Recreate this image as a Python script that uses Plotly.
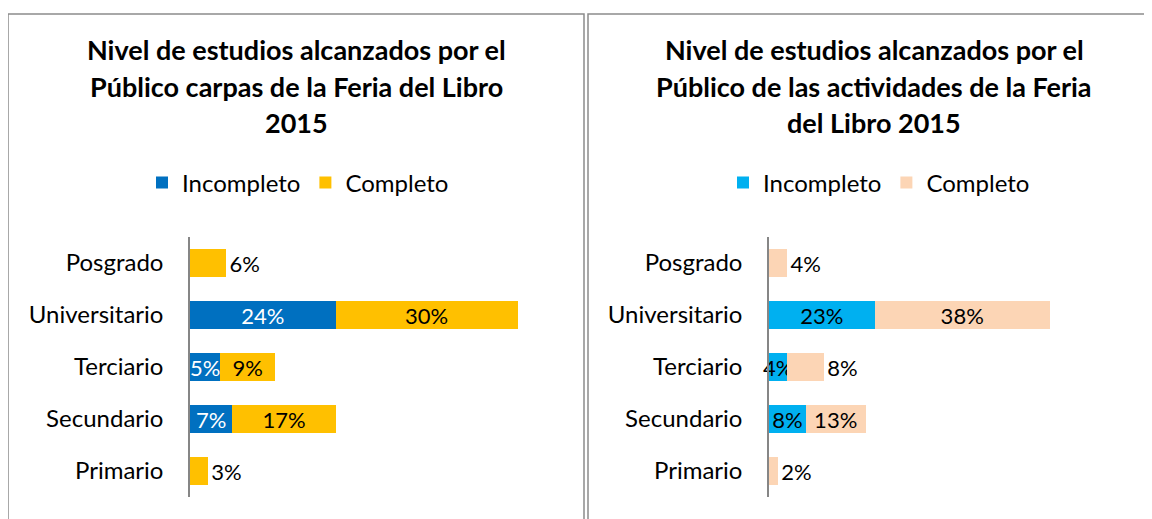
import plotly.graph_objects as go

W, H = 1152, 519
OFF = 8  # page body margin

categories = ["Posgrado", "Universitario", "Terciario", "Secundario", "Primario"]

carpas_incompleto = [None, 24, 5, 7, None]
carpas_completo = [6, 30, 9, 17, 3]

activ_incompleto = [None, 23, 4, 8, None]
activ_completo = [4, 38, 8, 13, 2]

title_left = ["Nivel de estudios alcanzados por el", "Público carpas de la Feria del Libro", "2015"]
title_right = ["Nivel de estudios alcanzados por el", "Público de las actividades de la Feria", "del Libro 2015"]

FONT = "Lato"
BLUE, YELLOW = "#0070C0", "#FFC000"
CYAN, PEACH = "#00B0F0", "#FCD5B5"


def px(x):
    return (x - OFF) / W


def py(y):
    return 1 - (y - OFF) / H


def lab(vals):
    return [("" if v is None else f"{v}%") for v in vals]


LBL = 22
fig = go.Figure()

common_bar = dict(orientation="h", insidetextanchor="middle", constraintext="none",
                  textangle=0, hoverinfo="skip", cliponaxis=False)

# left panel
fig.add_trace(go.Bar(
    y=categories, x=carpas_incompleto, name="Incompleto",
    marker=dict(color=BLUE, line=dict(width=0)), text=lab(carpas_incompleto),
    textposition="inside",
    textfont=dict(color="white", size=LBL, family=FONT),
    xaxis="x", yaxis="y", legend="legend", **common_bar))
fig.add_trace(go.Bar(
    y=categories, x=carpas_completo, name="Completo",
    marker=dict(color=YELLOW, line=dict(width=0)), text=lab(carpas_completo),
    textposition=["outside", "inside", "inside", "inside", "outside"],
    textfont=dict(color="black", size=LBL, family=FONT),
    xaxis="x", yaxis="y", legend="legend", **common_bar))

# right panel
fig.add_trace(go.Bar(
    y=categories, x=activ_incompleto, name="Incompleto",
    marker=dict(color=CYAN, line=dict(width=0)), text=lab(activ_incompleto),
    textposition="inside",
    textfont=dict(color="black", size=LBL, family=FONT),
    xaxis="x2", yaxis="y2", legend="legend2", **common_bar))
fig.add_trace(go.Bar(
    y=categories, x=activ_completo, name="Completo",
    marker=dict(color=PEACH, line=dict(width=0)), text=lab(activ_completo),
    textposition=["outside", "inside", "outside", "inside", "outside"],
    textfont=dict(color="black", size=LBL, family=FONT),
    xaxis="x2", yaxis="y2", legend="legend2", **common_bar))

ydom = [py(497), py(237)]
axis_common = dict(showgrid=False, zeroline=False, showticklabels=False, fixedrange=True)
yaxis_common = dict(showgrid=False, zeroline=False, showline=True, linecolor="#868686",
                    linewidth=1.5, ticks="", range=[4.5, -0.5], domain=ydom,
                    tickfont=dict(size=24, family=FONT, color="black"),
                    ticklabelstandoff=20, fixedrange=True)

annotations = []
for i, t in enumerate(title_left):
    annotations.append(dict(text=f"<b>{t}</b>", x=px(296), y=py(50 + 36 * i), xref="paper", yref="paper",
                            showarrow=False, xanchor="center", yanchor="middle",
                            font=dict(size=27, family=FONT, color="black")))
for i, t in enumerate(title_right):
    annotations.append(dict(text=f"<b>{t}</b>", x=px(874), y=py(50 + 36 * i), xref="paper", yref="paper",
                            showarrow=False, xanchor="center", yanchor="middle",
                            font=dict(size=27, family=FONT, color="black")))

border = dict(color="#8c8c8c", width=1.5)
shapes = [
    dict(type="rect", xref="paper", yref="paper", x0=px(8), x1=px(584), y0=py(540), y1=py(14), line=border),
    dict(type="rect", xref="paper", yref="paper", x0=px(588), x1=px(1175), y0=py(540), y1=py(14), line=border),
]

fig.update_layout(
    width=W, height=H, margin=dict(l=0, r=0, t=0, b=0),
    paper_bgcolor="white", plot_bgcolor="white",
    barmode="stack", bargap=0.48,
    font=dict(family=FONT, color="black"),
    xaxis=dict(domain=[px(190), px(554)], range=[0, 60], anchor="y", **axis_common),
    yaxis=dict(anchor="x", **yaxis_common),
    xaxis2=dict(domain=[px(769), px(1137)], range=[0, 80], anchor="y2", **axis_common),
    yaxis2=dict(anchor="x2", **yaxis_common),
    legend=dict(orientation="h", x=px(298), y=py(183), xanchor="center", yanchor="middle",
                font=dict(size=24, family=FONT), traceorder="normal", itemclick=False),
    legend2=dict(orientation="h", x=px(879), y=py(183), xanchor="center", yanchor="middle",
                 font=dict(size=24, family=FONT), traceorder="normal", itemclick=False),
    annotations=annotations, shapes=shapes, showlegend=True,
)

fig.write_html("out.html")
